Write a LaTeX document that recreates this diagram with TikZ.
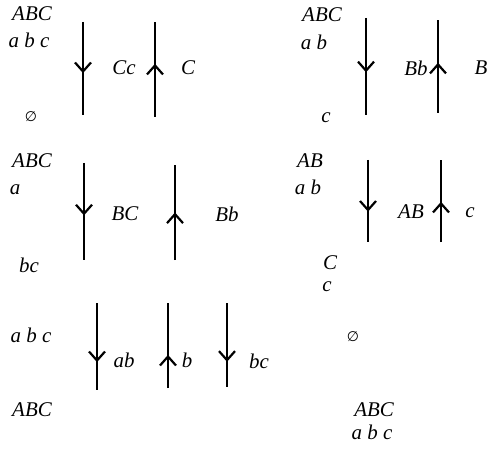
\documentclass[tikz,border=0pt]{standalone}
\usepackage{fontspec}
\setmainfont{Liberation Serif}
\newfontfamily\symfont{DejaVu Sans}
\usetikzlibrary{arrows.meta,decorations.markings}
\begin{document}
\begin{tikzpicture}[x=1bp,y=-1bp,
  lbl/.style={font=\fontsize{21}{24}\selectfont\itshape, inner sep=0pt},
  nul/.style={font=\fontsize{14}{16}\selectfont\symfont, inner sep=0pt},
  strand/.style={line width=2.3bp, postaction={decorate},
    decoration={markings, mark=at position #1 with {\arrow{Straight Barb[length=9bp,width=16bp,line width=2.2bp]}}}},
  strand/.default=0.54]
\useasboundingbox (0,0) rectangle (489,450);
% panel 1
\node[lbl] (p1a) at (32,14) {ABC};
\node[lbl] (p1b) at (29,40) {a b c};
\node[nul] (p1c) at (31,117) {∅};
\node[lbl] (p1d) at (124,68) {Cc};
\node[lbl] (p1e) at (188,68) {C};
\coordinate (s1t) at (83,22); \coordinate (s1b) at (83,115);
\coordinate (s2t) at (155,22); \coordinate (s2b) at (155,117);
\draw[strand=0.55] (s1t) -- (s1b);
\draw[strand=0.56] (s2b) -- (s2t);
% panel 2
\node[lbl] (p2a) at (322,15) {ABC};
\node[lbl] (p2b) at (314,42) {a b};
\node[lbl] (p2c) at (326,118) {c};
\node[lbl] (p2d) at (416,68) {Bb};
\node[lbl] (p2e) at (481,68) {B};
\coordinate (s3t) at (366,18); \coordinate (s3b) at (366,115);
\coordinate (s4t) at (438,20); \coordinate (s4b) at (438,113);
\draw[strand=0.56] (s3t) -- (s3b);
\draw[strand=0.54] (s4b) -- (s4t);
% panel 3
\node[lbl] (p3a) at (32,161) {ABC};
\node[lbl] (p3b) at (15,190) {a};
\node[lbl] (p3c) at (29,265) {bc};
\node[lbl] (p3d) at (125,214) {BC};
\node[lbl] (p3e) at (227,214) {Bb};
\coordinate (s5t) at (84,163); \coordinate (s5b) at (84,260);
\coordinate (s6t) at (175,165); \coordinate (s6b) at (175,260);
\draw[strand=0.54] (s5t) -- (s5b);
\draw[strand=0.5] (s6b) -- (s6t);
% panel 4
\node[lbl] (p4a) at (310,161) {AB};
\node[lbl] (p4b) at (308,187) {a b};
\node[lbl] (p4c) at (411,212) {AB};
\node[lbl] (p4d) at (470,213) {c};
\node[lbl] (p4e) at (330,263) {C};
\node[lbl] (p4f) at (327,287) {c};
\node[nul] (p4g) at (353,337) {∅};
\coordinate (s7t) at (368,160); \coordinate (s7b) at (368,242);
\coordinate (s8t) at (441,160); \coordinate (s8b) at (441,242);
\draw[strand=0.63] (s7t) -- (s7b);
\draw[strand=0.49] (s8b) -- (s8t);
% panel 5
\node[lbl] (p5a) at (31,335) {a b c};
\node[lbl] (p5b) at (32,410) {ABC};
\node[lbl] (p5c) at (124,360) {ab};
\node[lbl] (p5d) at (187,360) {b};
\node[lbl] (p5e) at (259,361) {bc};
\coordinate (s9t) at (97,303); \coordinate (s9b) at (97,390);
\coordinate (s10t) at (168,303); \coordinate (s10b) at (168,388);
\coordinate (s11t) at (227,303); \coordinate (s11b) at (227,387);
\draw[strand=0.68] (s9t) -- (s9b);
\draw[strand=0.39] (s10b) -- (s10t);
\draw[strand=0.70] (s11t) -- (s11b);
% panel 6
\node[lbl] (p6a) at (374,410) {ABC};
\node[lbl] (p6b) at (372,432) {a b c};
\end{tikzpicture}
\end{document}
